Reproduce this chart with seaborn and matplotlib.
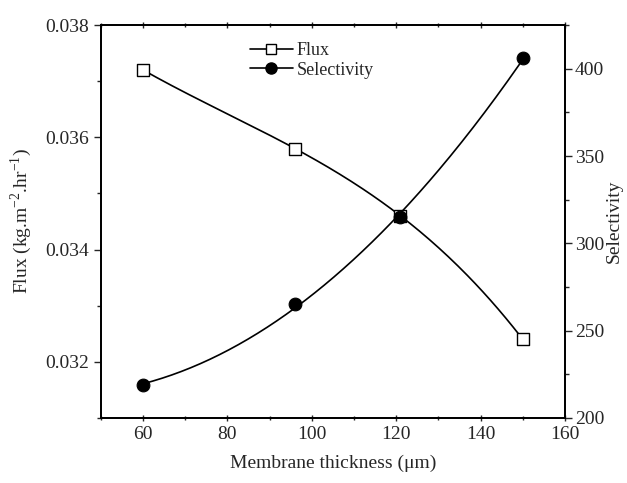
import numpy as np
import pandas as pd
import matplotlib
matplotlib.use("Agg")
import matplotlib.pyplot as plt
import seaborn as sns
from matplotlib.lines import Line2D
from matplotlib.ticker import MultipleLocator

# Data
thickness = [60, 96, 121, 150]
flux = [0.0372, 0.0358, 0.0346, 0.0324]
selectivity = [219, 265, 315, 406]

df = pd.DataFrame({"thickness": thickness, "flux": flux, "selectivity": selectivity})

sns.set_style("ticks")
plt.rcParams["font.family"] = ["Liberation Serif", "DejaVu Serif"]
plt.rcParams["mathtext.fontset"] = "custom"
plt.rcParams["mathtext.rm"] = "Liberation Serif"

fig, ax = plt.subplots(figsize=(6.27, 4.83), dpi=100)
fig.subplots_adjust(left=0.161, right=0.901, top=0.948, bottom=0.135)
ax2 = ax.twinx()

# smooth curves through the points
xs = np.linspace(min(thickness), max(thickness), 200)
flux_curve = np.polyval(np.polyfit(df.thickness, df.flux, 3), xs)
sel_curve = np.polyval(np.polyfit(df.thickness, df.selectivity, 2), xs)

sns.lineplot(x=xs, y=flux_curve, ax=ax, color="black", lw=1.2)
sns.lineplot(x=xs, y=sel_curve, ax=ax2, color="black", lw=1.2)
sns.scatterplot(data=df, x="thickness", y="flux", ax=ax, marker="s", s=75,
                facecolor="white", edgecolor="black", linewidth=1.0, zorder=5)
sns.scatterplot(data=df, x="thickness", y="selectivity", ax=ax2, marker="o", s=85,
                color="black", edgecolor="black", zorder=5)

ax.set_xlim(50, 160)
ax.set_ylim(0.031, 0.038)
ax2.set_ylim(200, 425)

ax.xaxis.set_major_locator(MultipleLocator(20))
ax.xaxis.set_minor_locator(MultipleLocator(10))
ax.yaxis.set_major_locator(MultipleLocator(0.002))
ax.yaxis.set_minor_locator(MultipleLocator(0.001))
ax2.yaxis.set_major_locator(MultipleLocator(50))
ax2.yaxis.set_minor_locator(MultipleLocator(25))
ax.yaxis.set_major_formatter(matplotlib.ticker.FormatStrFormatter("%.3f"))

ax.tick_params(axis="both", which="major", labelsize=14, length=5, width=1, direction="out")
ax.tick_params(axis="both", which="minor", length=3, width=1, direction="out")
ax.tick_params(axis="x", which="both", direction="inout", top=True)
ax2.tick_params(axis="y", which="major", labelsize=14, length=5, width=1, direction="out", pad=2)
ax2.tick_params(axis="y", which="minor", length=3, width=1, direction="out")

for a in (ax, ax2):
    for s in a.spines.values():
        s.set_linewidth(1.3)
        s.set_color("black")

ax.set_xlabel("Membrane thickness (\u03bcm)", fontsize=14, labelpad=8)
ax.set_ylabel("Flux (kg.m$^{\\mathregular{-2}}$.hr$^{\\mathregular{-1}}$)", fontsize=14, labelpad=8)
ax2.set_ylabel("Selectivity", fontsize=14, labelpad=1)

handles = [
    Line2D([], [], color="black", lw=1.2, marker="s", ms=7, mfc="white", mec="black"),
    Line2D([], [], color="black", lw=1.2, marker="o", ms=8, mfc="black", mec="black"),
]
ax.legend(handles, ["Flux", "Selectivity"], loc="upper left", bbox_to_anchor=(0.297, 0.985),
          frameon=False, fontsize=13, handlelength=2.4, handletextpad=0.2,
          labelspacing=0.15, borderaxespad=0.2)

fig.savefig("out.png", dpi=100)
